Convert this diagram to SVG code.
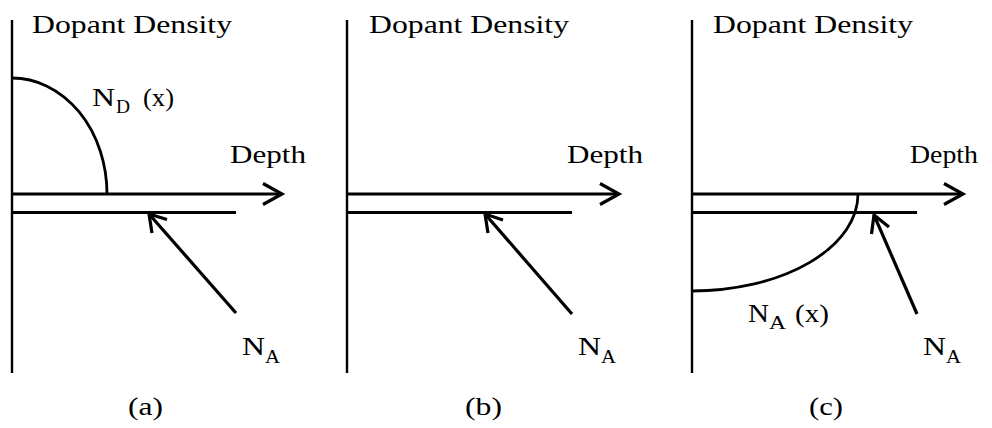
<svg xmlns="http://www.w3.org/2000/svg" width="992" height="428" viewBox="0 0 992 428">
<style>
text{font-family:"Liberation Serif","Times New Roman",serif;font-size:25.5px;fill:#000}
.sub{font-size:18px}
.ln{stroke:#000;fill:none;stroke-linecap:butt}
.ax{stroke-width:2.4}
.hz{stroke-width:3.2}
.l2{stroke-width:2.8}
.cv{stroke-width:2.8}
.ar{stroke-width:3.2}
</style>
<rect width="992" height="428" fill="#fff"/>
<g id="panel-a">
  <line class="ln ax" x1="12" y1="20" x2="12" y2="373"/>
  <line class="ln hz" x1="12" y1="194" x2="282" y2="194"/>
  <polyline class="ln ar" points="263,183.5 282,194 263,204.5"/>
  <line class="ln l2" x1="12" y1="212.5" x2="236" y2="212.5"/>
  <path class="ln cv" d="M12,78 A95,116 0 0 1 107,194"/>
  <line class="ln ar" x1="236" y1="313" x2="149" y2="214"/>
  <polyline class="ln ar" points="152,233 149,214 167,219.5"/>
  <text x="32" y="33" textLength="200" lengthAdjust="spacingAndGlyphs">Dopant Density</text>
  <text x="230" y="163" textLength="76" lengthAdjust="spacingAndGlyphs">Depth</text>
  <text x="92" y="106" textLength="23" lengthAdjust="spacingAndGlyphs">N</text>
  <text class="sub" x="116" y="113" textLength="14" lengthAdjust="spacingAndGlyphs">D</text>
  <text x="143" y="106" textLength="31" lengthAdjust="spacingAndGlyphs">(x)</text>
  <text x="242" y="355" textLength="23" lengthAdjust="spacingAndGlyphs">N</text>
  <text class="sub" x="265" y="363" textLength="15" lengthAdjust="spacingAndGlyphs">A</text>
  <text x="128" y="415" textLength="35" lengthAdjust="spacingAndGlyphs">(a)</text>
</g>
<g id="panel-b">
  <line class="ln ax" x1="347" y1="20" x2="347" y2="373"/>
  <line class="ln hz" x1="347" y1="194" x2="619" y2="194"/>
  <polyline class="ln ar" points="600,183.5 619,194 600,204.5"/>
  <line class="ln l2" x1="347" y1="212.5" x2="572" y2="212.5"/>
  <line class="ln ar" x1="572" y1="314" x2="485" y2="214"/>
  <polyline class="ln ar" points="488,233 485,214 503,220"/>
  <text x="369" y="33" textLength="200" lengthAdjust="spacingAndGlyphs">Dopant Density</text>
  <text x="567" y="163" textLength="76" lengthAdjust="spacingAndGlyphs">Depth</text>
  <text x="578" y="355" textLength="23" lengthAdjust="spacingAndGlyphs">N</text>
  <text class="sub" x="601" y="363" textLength="15" lengthAdjust="spacingAndGlyphs">A</text>
  <text x="465" y="415" textLength="37" lengthAdjust="spacingAndGlyphs">(b)</text>
</g>
<g id="panel-c">
  <line class="ln ax" x1="692" y1="20" x2="692" y2="373"/>
  <line class="ln hz" x1="692" y1="194" x2="963" y2="194"/>
  <polyline class="ln ar" points="944,183.5 963,194 944,204.5"/>
  <line class="ln l2" x1="692" y1="212.5" x2="917" y2="212.5"/>
  <path class="ln cv" d="M692,291 A166,97 0 0 0 858,194"/>
  <line class="ln ar" x1="917" y1="314" x2="874" y2="215"/>
  <polyline class="ln ar" points="871.5,234 874,215 889,227"/>
  <text x="713" y="33" textLength="200" lengthAdjust="spacingAndGlyphs">Dopant Density</text>
  <text x="910" y="163" textLength="68" lengthAdjust="spacingAndGlyphs">Depth</text>
  <text x="748" y="322" textLength="21" lengthAdjust="spacingAndGlyphs">N</text>
  <text class="sub" x="769" y="329" textLength="17" lengthAdjust="spacingAndGlyphs">A</text>
  <text x="795" y="322" textLength="34" lengthAdjust="spacingAndGlyphs">(x)</text>
  <text x="923" y="355" textLength="23" lengthAdjust="spacingAndGlyphs">N</text>
  <text class="sub" x="946" y="363" textLength="15" lengthAdjust="spacingAndGlyphs">A</text>
  <text x="809" y="415" textLength="34" lengthAdjust="spacingAndGlyphs">(c)</text>
</g>
</svg>
